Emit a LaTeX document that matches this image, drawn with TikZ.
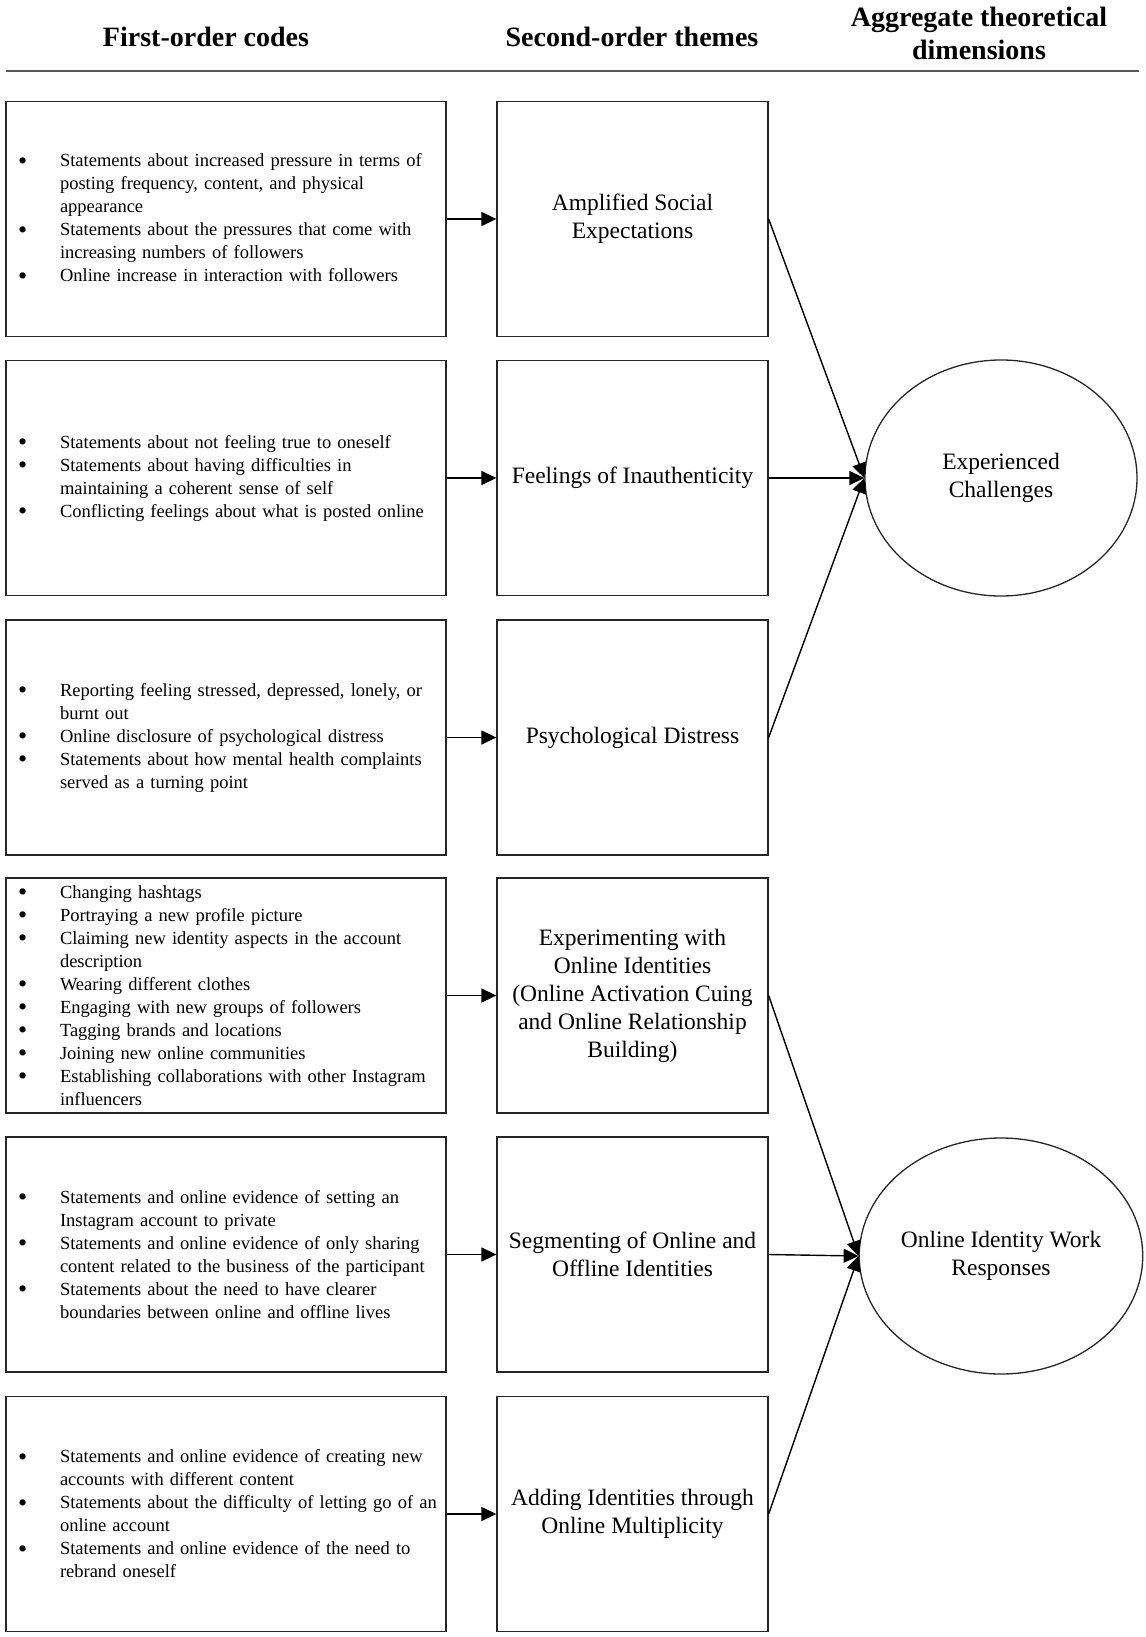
\documentclass[tikz,border=0pt]{standalone}
\usepackage{fontspec}
\setmainfont{Liberation Serif}
\usetikzlibrary{shapes.geometric,arrows.meta}
\newcommand\bu{\makebox[42pt][l]{\raisebox{-2.5pt}{\fontsize{26}{23}\selectfont\textbullet}}}
\newcommand\ct{\hspace*{42pt}}
\tikzset{
  codebox/.style={draw=black!85, line width=1.3pt, minimum width=440pt, minimum height=235pt,
    inner xsep=12pt, text width=416pt, align=left, font=\fontsize{18.5}{23}\selectfont},
  themebox/.style={draw=black!85, line width=1.3pt, minimum width=271pt, minimum height=235pt,
    inner sep=2pt, align=center, font=\fontsize{23.5}{28}\selectfont},
  dimell/.style={draw=black!85, line width=1.3pt, ellipse, minimum width=272pt, minimum height=236pt,
    inner sep=0pt, align=center, font=\fontsize{23.5}{28}\selectfont},
  hdr/.style={align=center, font=\bfseries\fontsize{28}{33}\selectfont, inner sep=0pt},
  link/.style={line width=1.4pt, -{Triangle[length=15pt,width=14pt]}},
}
\begin{document}
\begin{tikzpicture}[x=1pt,y=-1pt]
\useasboundingbox (0,0) rectangle (1145,1637);
% headers
\node[hdr] (h1) at (206,37) {First-order codes};
\node[hdr] (h2) at (632,37) {Second-order themes};
\node[hdr] (h3) at (979,33) {Aggregate theoretical\\dimensions};
\draw[line width=2pt, black!65] (6,71) -- (1139,71);

% row 1
\node[codebox] (f1) at (226,219) {\bu Statements about increased pressure in terms of\\
\ct posting frequency, content, and physical\\
\ct appearance\\
\bu Statements about the pressures that come with\\
\ct increasing numbers of followers\\
\bu Online increase in interaction with followers};
\node[themebox] (s1) at (632.5,219) {Amplified Social\\Expectations};

% row 2
\node[codebox] (f2) at (226,478) {\bu Statements about not feeling true to oneself\\
\bu Statements about having difficulties in\\
\ct maintaining a coherent sense of self\\
\bu Conflicting feelings about what is posted online};
\node[themebox] (s2) at (632.5,478) {Feelings of Inauthenticity};

% row 3
\node[codebox] (f3) at (226,737.5) {\bu Reporting feeling stressed, depressed, lonely, or\\
\ct burnt out\\
\bu Online disclosure of psychological distress\\
\bu Statements about how mental health complaints\\
\ct served as a turning point};
\node[themebox] (s3) at (632.5,737.5) {Psychological Distress};

% row 4
\node[codebox] (f4) at (226,995.5) {\bu Changing hashtags\\
\bu Portraying a new profile picture\\
\bu Claiming new identity aspects in the account\\
\ct description\\
\bu Wearing different clothes\\
\bu Engaging with new groups of followers\\
\bu Tagging brands and locations\\
\bu Joining new online communities\\
\bu \mbox{Establishing collaborations with other Instagram}\\
\ct influencers};
\node[themebox] (s4) at (632.5,995.5) {Experimenting with\\Online Identities\\(Online Activation Cuing\\and Online Relationship\\Building)};

% row 5
\node[codebox] (f5) at (226,1254.5) {\bu Statements and online evidence of setting an\\
\ct Instagram account to private\\
\bu Statements and online evidence of only sharing\\
\ct \mbox{content related to the business of the participant}\\
\bu Statements about the need to have clearer\\
\ct boundaries between online and offline lives};
\node[themebox] (s5) at (632.5,1254.5) {Segmenting of Online and\\Offline Identities};

% row 6
\node[codebox] (f6) at (226,1514) {\bu Statements and online evidence of creating new\\
\ct accounts with different content\\
\bu \mbox{Statements about the difficulty of letting go of an}\\
\ct online account\\
\bu Statements and online evidence of the need to\\
\ct rebrand oneself};
\node[themebox] (s6) at (632.5,1514) {Adding Identities through\\Online Multiplicity};

% aggregate dimensions
\node[dimell] (e1) at (1001,478) {Experienced\\Challenges};
\node[dimell] (e2) at (1001,1256) {Online Identity Work\\Responses};

% connectors
\foreach \i in {1,...,6} {\draw[link] (f\i.east) -- (s\i.west);}
\draw[link] (s1.east) -- (e1.west);
\draw[link] (s2.east) -- (e1.west);
\draw[link] (s3.east) -- (e1.west);
\draw[link] (s4.east) -- (e2.west);
\draw[link] (s5.east) -- (e2.west);
\draw[link] (s6.east) -- (e2.west);
\end{tikzpicture}
\end{document}
